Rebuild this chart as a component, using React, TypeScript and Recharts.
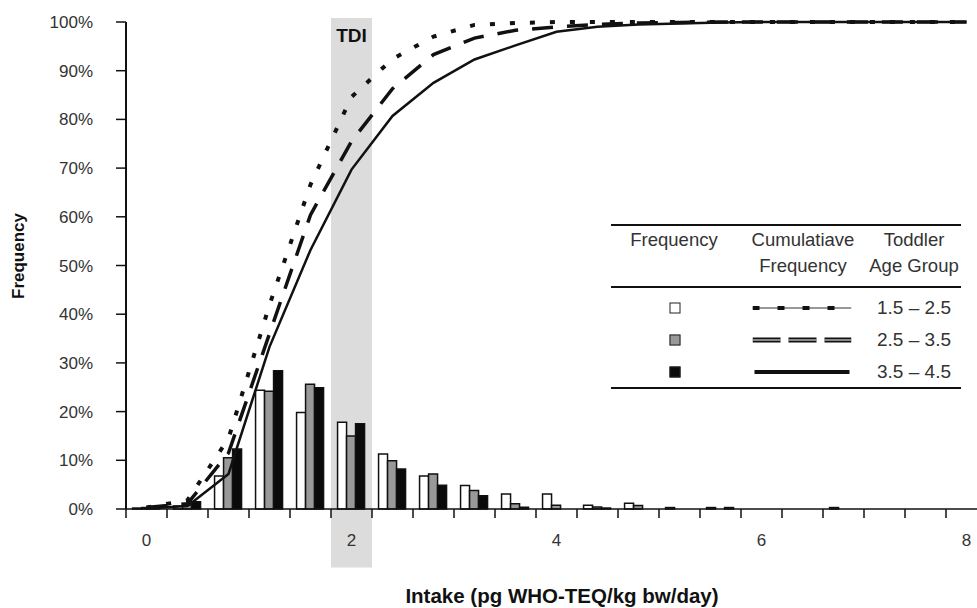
import React from "react";
import {
  ComposedChart,
  Bar,
  Line,
  XAxis,
  YAxis,
  ReferenceArea,
  Legend,
} from "recharts";

const categories = [
  "0", "0.4", "0.8", "1.2", "1.6", "2", "2.4", "2.8", "3.2", "3.6", "4",
  "4.4", "4.8", "5.2", "5.6", "6", "6.4", "6.8", "7.2", "7.6", "8",
];

// frequency (%) per intake bin, one array per toddler age group
const freq15to25 = [0.2, 0.6, 6.8, 24.4, 19.8, 17.8, 11.3, 6.8, 4.8, 3.1, 3.1, 0.75, 1.2, 0.3, 0.3, 0, 0, 0.3, 0, 0, 0];
const freq25to35 = [0.3, 0.8, 10.5, 24.2, 25.6, 15.0, 9.9, 7.2, 3.8, 1.1, 0.75, 0.4, 0.7, 0, 0, 0, 0, 0, 0, 0, 0];
const freq35to45 = [0.3, 1.5, 12.3, 28.4, 24.9, 17.5, 8.2, 4.9, 2.7, 0.35, 0, 0.2, 0, 0, 0.3, 0, 0, 0, 0, 0, 0];

// cumulative frequency (%)
const cum15to25 = [0.3, 1.8, 14.5, 41.9, 66.6, 84.6, 92.4, 97.0, 99.4, 99.8, 100, 100, 100, 100, 100, 100, 100, 100, 100, 100, 100];
const cum25to35 = [0.3, 1.1, 11.5, 36.0, 60.4, 75.5, 86.3, 93.3, 96.7, 98.3, 99.0, 99.5, 99.8, 99.9, 100, 100, 100, 100, 100, 100, 100];
const cum35to45 = [0.1, 0.6, 7.2, 33.3, 53.2, 69.7, 80.7, 87.5, 92.3, 95.2, 98.0, 99.0, 99.5, 99.7, 99.9, 100, 100, 100, 100, 100, 100];

const yTicks = [0, 10, 20, 30, 40, 50, 60, 70, 80, 90, 100];
const xLabelEvery = 5;
const ageGroups = ["1.5 – 2.5", "2.5 – 3.5", "3.5 – 4.5"];
const tdiCategory = "2";

const FONT = "'Liberation Sans', Arial, Helvetica, sans-serif";
const INK = "#111";
const TEXT = "#333";
const BAND = 41;

const chartData = categories.map((cat, i) => ({
  cat,
  f1: freq15to25[i],
  f2: freq25to35[i],
  f3: freq35to45[i],
  c1: cum15to25[i],
  c2: cum25to35[i],
  c3: cum35to45[i],
}));

function XTick(props: any) {
  const { x, y, payload, index } = props;
  const half = payload && payload.offset ? payload.offset : BAND / 2;
  const left = x - half;
  return (
    <g>
      <line x1={left} x2={left} y1={y} y2={y + 9} stroke={INK} strokeWidth={1.5} />
      {index % xLabelEvery === 0 && (
        <text
          x={x}
          y={y + 37}
          textAnchor="middle"
          fontFamily={FONT}
          fontSize={17}
          fill={TEXT}
        >
          {payload.value}
        </text>
      )}
    </g>
  );
}

function XTitle() {
  return (
    <text
      x={562}
      y={603}
      textAnchor="middle"
      fontFamily={FONT}
      fontWeight="bold"
      fontSize={20.5}
      fill={INK}
    >
      Intake (pg WHO-TEQ/kg bw/day)
    </text>
  );
}

function YTitle() {
  const cy = 256;
  const cx = 18;
  return (
    <text
      x={cx}
      y={cy}
      transform={`rotate(-90 ${cx} ${cy})`}
      textAnchor="middle"
      dominantBaseline="central"
      fontFamily={FONT}
      fontWeight="bold"
      fontSize={17}
      fill={INK}
    >
      Frequency
    </text>
  );
}

function TdiLabel(props: any) {
  const { viewBox } = props;
  return (
    <text
      x={viewBox.x + viewBox.width / 2}
      y={viewBox.y + 24}
      textAnchor="middle"
      fontFamily={FONT}
      fontWeight="bold"
      fontSize={19}
      fill={INK}
    >
      TDI
    </text>
  );
}

function Swatch({ fill }: { fill: string }) {
  return (
    <div
      style={{
        width: 9,
        height: 9,
        background: fill,
        border: "1.5px solid #222",
      }}
    />
  );
}

function LineSample({ kind }: { kind: number }) {
  return (
    <svg width={99} height={10} style={{ display: "block" }}>
      {kind === 0 && (
        <>
          <line x1={0} x2={99} y1={5} y2={5} stroke="#333" strokeWidth={1} />
          <line x1={0} x2={99} y1={5} y2={5} stroke={INK} strokeWidth={4} strokeDasharray="7 18" />
        </>
      )}
      {kind === 1 && (
        <>
          <line x1={0} x2={99} y1={5} y2={5} stroke={INK} strokeWidth={5} strokeDasharray="28 8" />
          <line x1={0} x2={99} y1={5} y2={5} stroke="#fff" strokeWidth={1.2} strokeDasharray="28 8" />
        </>
      )}
      {kind === 2 && (
        <line x1={2} x2={97} y1={5} y2={5} stroke={INK} strokeWidth={4} />
      )}
    </svg>
  );
}

const swatchFills = ["#ffffff", "#999999", "#0a0a0a"];

function center(left: number, top: number): React.CSSProperties {
  return {
    position: "absolute",
    left,
    top,
    transform: "translate(-50%, -50%)",
    whiteSpace: "nowrap",
    textAlign: "center",
  };
}

function LegendTable() {
  const rule = (top: number): React.CSSProperties => ({
    position: "absolute",
    left: 0,
    top,
    width: 350,
    height: 2,
    background: INK,
  });
  const rowY = [84, 116, 148];
  return (
    <div
      style={{
        position: "relative",
        width: 350,
        height: 166,
        fontFamily: FONT,
        fontSize: 18.5,
        color: TEXT,
        lineHeight: "26px",
      }}
    >
      <div style={rule(0)} />
      <div style={center(63, 16)}>Frequency</div>
      <div style={center(192, 29)}>
        Cumulatiave
        <br />
        Frequency
      </div>
      <div style={center(303, 29)}>
        Toddler
        <br />
        Age Group
      </div>
      <div style={rule(62)} />
      {ageGroups.map((g, i) => (
        <React.Fragment key={g}>
          <div style={center(64, rowY[i])}>
            <Swatch fill={swatchFills[i]} />
          </div>
          <div style={center(191, rowY[i])}>
            <LineSample kind={i} />
          </div>
          <div style={{ ...center(303, rowY[i]), fontSize: 19 }}>{g}</div>
        </React.Fragment>
      ))}
      <div style={rule(163)} />
    </div>
  );
}

export default function App() {
  return (
    <div
      style={{
        position: "fixed",
        left: 0,
        top: 0,
        width: 977,
        height: 608,
        overflow: "hidden",
        background: "#fff",
      }}
    >
      <ComposedChart
        width={987}
        height={608}
        data={chartData}
        margin={{ top: 22, right: 0, bottom: 0, left: 0 }}
        barCategoryGap="16%"
        barGap={0}
      >
        <ReferenceArea
          x1={tdiCategory}
          x2={tdiCategory}
          y1={-12}
          y2={100.8}
          fill="#dcdcdc"
          fillOpacity={1}
          stroke="none"
          ifOverflow="visible"
          label={TdiLabel}
        />
        <XAxis
          dataKey="cat"
          interval={0}
          tick={XTick}
          tickLine={false}
          tickSize={0}
          tickMargin={0}
          axisLine={{ stroke: INK, strokeWidth: 1.5 }}
          height={99}
          label={XTitle}
        />
        <YAxis
          domain={[0, 100]}
          ticks={yTicks}
          tickFormatter={(v: number) => `${v}%`}
          tickSize={10}
          tickMargin={23}
          tick={{ fontFamily: FONT, fontSize: 17, fill: TEXT }}
          tickLine={{ stroke: INK, strokeWidth: 1.5 }}
          axisLine={{ stroke: INK, strokeWidth: 2 }}
          width={126}
          label={YTitle}
        />
        <Legend
          layout="vertical"
          align="center"
          verticalAlign="middle"
          content={() => <LegendTable />}
          wrapperStyle={{ left: 611, top: 224, width: 350, height: 166 }}
        />
        <Bar dataKey="f1" name="1.5 – 2.5" fill="#ffffff" stroke={INK} strokeWidth={1.5} isAnimationActive={false} />
        <Bar dataKey="f2" name="2.5 – 3.5" fill="#999999" stroke={INK} strokeWidth={1.5} isAnimationActive={false} />
        <Bar dataKey="f3" name="3.5 – 4.5" fill="#0a0a0a" stroke={INK} strokeWidth={1.5} isAnimationActive={false} />
        <Line
          type="linear"
          dataKey="c1"
          stroke={INK}
          strokeWidth={4}
          strokeDasharray="5 15"
          dot={false}
          isAnimationActive={false}
        />
        <Line
          type="linear"
          dataKey="c2"
          stroke={INK}
          strokeWidth={3.5}
          strokeDasharray="21 14"
          dot={false}
          isAnimationActive={false}
        />
        <Line
          type="linear"
          dataKey="c3"
          stroke={INK}
          strokeWidth={2.5}
          dot={false}
          isAnimationActive={false}
        />
      </ComposedChart>
    </div>
  );
}
